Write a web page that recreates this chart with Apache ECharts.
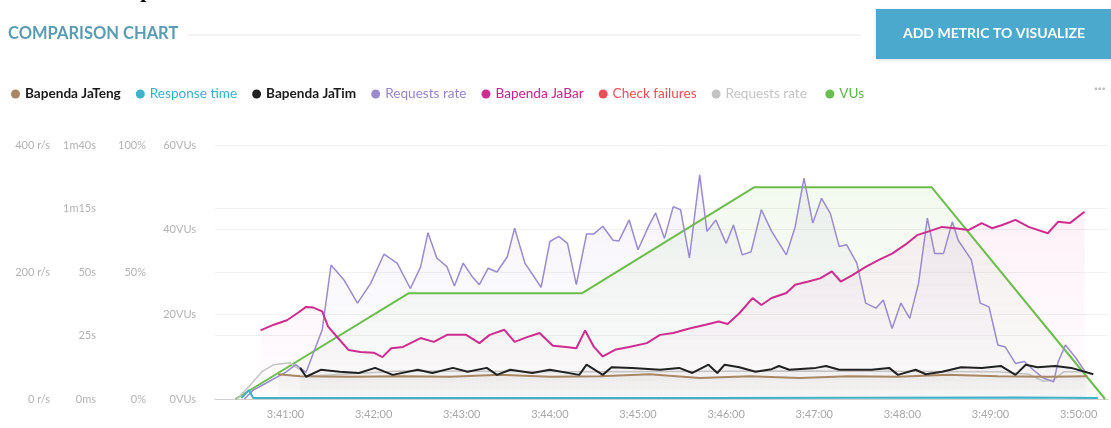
<!DOCTYPE html>
<html>
<head>
<meta charset="utf-8">
<script src="https://cdn.jsdelivr.net/npm/echarts@6/dist/echarts.min.js"></script>
<style>
  html, body { margin: 0; padding: 0; background: #fff; }
  #chart { width: 1111px; height: 428px; }
</style>
</head>
<body>
<div id="chart"></div>
<script>
// seconds after 3:40:00, value in r/s (the Bapenda lines are drawn on the same scale)
const xTickSeconds = [60, 120, 180, 240, 300, 360, 420, 480, 540, 600]
const xTickLabels = ['3:41:00', '3:42:00', '3:43:00', '3:44:00', '3:45:00', '3:46:00', '3:47:00', '3:48:00', '3:49:00', '3:50:00']
const timeTickLabels = ['0ms', '25s', '50s', '1m15s', '1m40s']

const requestsRate = [
  [32, 0], [38, 14], [46, 24], [60, 42], [67, 54], [74, 42], [85, 109], [91, 211], [100, 187],
  [109, 151], [118, 182], [127, 228], [136, 214], [145, 174], [152, 208], [157, 262], [163, 222],
  [170, 208], [175, 178], [181, 214], [187, 193], [192, 180], [198, 206], [204, 200], [211, 224],
  [216, 269], [223, 214], [234, 176], [240, 248], [246, 256], [252, 245], [258, 180], [265, 260],
  [270, 260], [276, 272], [283, 250], [287, 249], [294, 282], [300, 235], [307, 271], [312, 293],
  [318, 253], [324, 303], [329, 298], [335, 222], [342, 353], [347, 264], [353, 282], [360, 245],
  [365, 274], [371, 227], [377, 232], [384, 298], [391, 264], [401, 227], [407, 271], [413, 348],
  [419, 277], [425, 316], [431, 292], [437, 240], [442, 243], [449, 214], [455, 151], [462, 143],
  [467, 156], [473, 111], [479, 151], [485, 127], [491, 182], [497, 285], [502, 229], [508, 229],
  [514, 279], [518, 250], [527, 219], [533, 151], [539, 145], [545, 85], [550, 82], [557, 56],
  [563, 59], [569, 46], [576, 33], [583, 27], [586, 58], [591, 85], [598, 65], [605, 41]
]
const requestsRate2 = [
  [27, 0], [36, 22], [44, 43], [52, 54], [63, 57], [70, 46], [74, 36], [138, 44], [274, 43],
  [410, 44], [545, 43], [566, 39], [576, 28], [583, 30], [590, 43], [606, 43]
]
const bapendaJaBar = [
  [43, 108], [52, 117], [61, 124], [68, 135], [74, 145], [79, 144], [85, 138], [89, 114], [95, 98],
  [103, 77], [111, 74], [120, 73], [126, 66], [132, 80], [140, 82], [152, 96], [161, 90], [170, 101],
  [183, 101], [192, 88], [199, 101], [209, 109], [216, 90], [224, 97], [233, 104], [242, 84],
  [251, 82], [258, 80], [264, 108], [270, 82], [276, 67], [285, 78], [294, 82], [306, 88], [315, 101],
  [324, 104], [335, 111], [346, 117], [355, 122], [361, 118], [369, 135], [378, 159], [384, 148],
  [391, 159], [401, 167], [407, 180], [416, 185], [424, 190], [432, 201], [438, 185], [446, 195],
  [455, 208], [464, 219], [473, 229], [482, 243], [490, 258], [498, 264], [507, 271], [516, 269],
  [525, 266], [534, 277], [541, 269], [548, 274], [557, 282], [566, 271], [579, 261], [586, 279],
  [594, 277], [604, 295]
]
const bapendaJaTim = [
  [70, 49], [74, 35], [84, 46], [97, 43], [110, 41], [121, 49], [133, 38], [150, 46], [160, 41],
  [174, 49], [184, 43], [197, 49], [204, 38], [213, 46], [228, 41], [240, 46], [260, 38], [265, 54],
  [276, 38], [282, 50], [296, 49], [315, 46], [328, 49], [337, 41], [348, 54], [354, 41], [359, 54],
  [369, 50], [380, 43], [391, 47], [396, 52], [403, 46], [421, 49], [428, 52], [437, 46], [459, 46],
  [471, 49], [477, 38], [489, 46], [496, 39], [507, 43], [520, 50], [534, 49], [547, 52], [557, 38],
  [564, 54], [572, 50], [584, 52], [595, 49], [610, 39]
]
const bapendaJaTeng = [
  [55, 39], [70, 36], [104, 35], [138, 36], [172, 35], [206, 38], [240, 35], [274, 36], [308, 39],
  [342, 33], [376, 36], [410, 33], [443, 36], [477, 35], [511, 38], [545, 36], [579, 35], [606, 36]
]
// response time in seconds
const responseTime = [[30, 0.4], [32, 1.6], [35, 3.5], [38, 0.4], [350, 0.4], [560, 0.6], [613, 0.4]]
const checkFailures = []
// virtual users
const vus = [[26, 0], [144, 25], [262, 25], [379, 50], [500, 50], [618, 0]]

const chart = echarts.init(document.getElementById('chart'))

const axisLabelStyle = { color: '#b3b3b3', fontSize: 11, fontFamily: 'Lato', margin: 19 }
const fade = (r, g, b, a) => new echarts.graphic.LinearGradient(0, 0, 0, 1, [
  { offset: 0, color: `rgba(${r},${g},${b},${a})` },
  { offset: 1, color: `rgba(${r},${g},${b},0.02)` }
])
const line = (name, data, color, yAxisIndex, width, area) => ({
  name,
  type: 'line',
  data,
  yAxisIndex,
  showSymbol: false,
  symbol: 'circle',
  lineStyle: { color, width },
  itemStyle: { color },
  areaStyle: area || undefined,
  emphasis: { disabled: true }
})

chart.setOption({
  animation: false,
  textStyle: { fontFamily: 'Lato' },
  grid: { left: 215, right: 3, top: 145, bottom: 29 },
  graphic: [
    {
      type: 'text', left: 95, top: -20,
      style: { text: 'Comparison', font: 'bold 22px "Liberation Serif"', fill: '#000' }
    },
    {
      type: 'text', left: 8, top: 25,
      style: { text: 'COMPARISON CHART', font: 'bold 16.5px Lato', fill: '#5a9db3' }
    },
    {
      type: 'line', shape: { x1: 188, y1: 35, x2: 862, y2: 35 },
      style: { stroke: '#e9e9e9', lineWidth: 1 }
    },
    {
      type: 'rect', shape: { x: 876, y: 9, width: 240, height: 50 },
      style: { fill: '#4aa9cd', shadowBlur: 3, shadowColor: 'rgba(0,0,0,0.15)', shadowOffsetY: 1 }
    },
    {
      type: 'text', left: 903, top: 26,
      style: { text: 'ADD METRIC TO VISUALIZE', font: 'bold 14px Lato', fill: '#fff' }
    },
    {
      type: 'text', left: 1094, top: 81,
      style: { text: '···', font: 'bold 14px Lato', fill: '#bdbdbd' }
    }
  ],
  legend: {
    left: 6,
    top: 82,
    icon: 'circle',
    itemWidth: 9,
    itemHeight: 9,
    itemGap: 15,
    textStyle: { fontSize: 13.6, fontFamily: 'Lato' },
    data: [
      { name: 'Bapenda JaTeng', textStyle: { color: '#1a1a1a', fontWeight: 'bold' } },
      { name: 'Response time', textStyle: { color: '#39b1c8' } },
      { name: 'Bapenda JaTim', textStyle: { color: '#1a1a1a', fontWeight: 'bold' } },
      { name: 'Requests rate', textStyle: { color: '#9486c9' } },
      { name: 'Bapenda JaBar', textStyle: { color: '#cc1f8c' } },
      { name: 'Check failures', textStyle: { color: '#ef4d57' } },
      { name: 'Requests rate ', textStyle: { color: '#c4c4c4' } },
      { name: 'VUs', textStyle: { color: '#5fb548' } }
    ]
  },
  xAxis: {
    type: 'value',
    min: 12,
    max: 620,
    splitLine: { show: false },
    axisLine: { lineStyle: { color: '#cfcfcf' } },
    axisTick: { show: false },
    axisLabel: {
      customValues: xTickSeconds,
      color: '#a8a8a8',
      fontSize: 11,
      margin: 10,
      formatter: v => xTickLabels[xTickSeconds.indexOf(v)] || ''
    }
  },
  yAxis: [
    {
      type: 'value', position: 'left', offset: 146, min: 0, max: 400, interval: 200,
      axisLine: { show: false }, axisTick: { show: false }, splitLine: { show: false },
      axisLabel: { ...axisLabelStyle, formatter: '{value} r/s' }
    },
    {
      type: 'value', position: 'left', offset: 100, min: 0, max: 100, interval: 25,
      axisLine: { show: false }, axisTick: { show: false },
      splitLine: { lineStyle: { color: '#f1f1f1' } },
      axisLabel: { ...axisLabelStyle, formatter: v => timeTickLabels[v / 25] }
    },
    {
      type: 'value', position: 'left', offset: 50, min: 0, max: 100, interval: 50,
      axisLine: { show: false }, axisTick: { show: false }, splitLine: { show: false },
      axisLabel: { ...axisLabelStyle, formatter: '{value}%' }
    },
    {
      type: 'value', position: 'left', offset: 0, min: 0, max: 60, interval: 20,
      axisLine: { show: false }, axisTick: { show: false },
      splitLine: { lineStyle: { color: '#f1f1f1' } },
      axisLabel: { ...axisLabelStyle, formatter: '{value}VUs' }
    }
  ],
  series: [
    line('VUs', vus, '#6cbd4c', 3, 2, { color: fade(140, 205, 110, 0.16) }),
    line('Requests rate ', requestsRate2, '#c4c4c4', 0, 1.5),
    line('Requests rate', requestsRate, '#9a8bcf', 0, 1.5, { color: fade(160, 140, 210, 0.14) }),
    line('Bapenda JaBar', bapendaJaBar, '#cf2c8f', 0, 2, { color: fade(235, 110, 185, 0.14) }),
    line('Bapenda JaTeng', bapendaJaTeng, '#a98765', 0, 2, { color: fade(120, 100, 80, 0.08) }),
    line('Bapenda JaTim', bapendaJaTim, '#222222', 0, 2, { color: fade(60, 60, 60, 0.06) }),
    line('Check failures', checkFailures, '#ef4d57', 2, 2),
    line('Response time', responseTime, '#3db2c9', 1, 2)
  ]
})
</script>
</body>
</html>
